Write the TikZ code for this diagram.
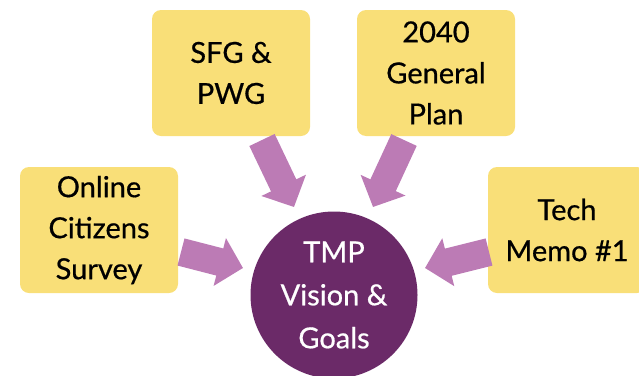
\documentclass[tikz,border=0pt]{standalone}
\usepackage{fontspec}
\setmainfont{Lato}[FakeBold=0.6]
\usetikzlibrary{arrows.meta}
\definecolor{boxy}{HTML}{F9DF78}
\definecolor{circp}{HTML}{6B2A68}
\definecolor{arrp}{HTML}{BC7BB5}
\tikzset{
  srcbox/.style={fill=boxy, rounded corners=9pt, minimum width=158pt, minimum height=126pt, inner sep=0pt, align=center, font=\fontsize{29}{41}\selectfont, text=black},
  hub/.style={circle, fill=circp, minimum size=167pt, inner sep=0pt, align=center, font=\fontsize{29}{43}\selectfont, text=white},
  blockarr/.style={draw=arrp, line width=28pt, -{Triangle[length=24pt,width=48pt]}}
}
\begin{document}
\begin{tikzpicture}[x=1pt,y=-1pt]
\useasboundingbox (0,0) rectangle (639,375);
\clip (0,0) rectangle (639,375);
\node[srcbox] (sfg) at (231,73) {SFG \&\\PWG};
\node[srcbox] (gp) at (436,73) {2040\\General\\Plan};
\node[srcbox] (ocs) at (99,230) {Online\\Citizens\\Survey};
\node[srcbox] (tm) at (567,230) {Tech\\Memo \#1};
\node[hub] (hub) at (334,295) {TMP\\Vision \&\\Goals};
\coordinate (s1) at (262,140);
\coordinate (e1) at (294,207);
\coordinate (s2) at (404,140);
\coordinate (e2) at (373,207);
\coordinate (s3) at (181,252);
\coordinate (e3) at (243,268);
\coordinate (s4) at (489,252);
\coordinate (e4) at (425,268);
\draw[blockarr] (s1) -- (e1);
\draw[blockarr] (s2) -- (e2);
\draw[blockarr] (s3) -- (e3);
\draw[blockarr] (s4) -- (e4);
\end{tikzpicture}
\end{document}
